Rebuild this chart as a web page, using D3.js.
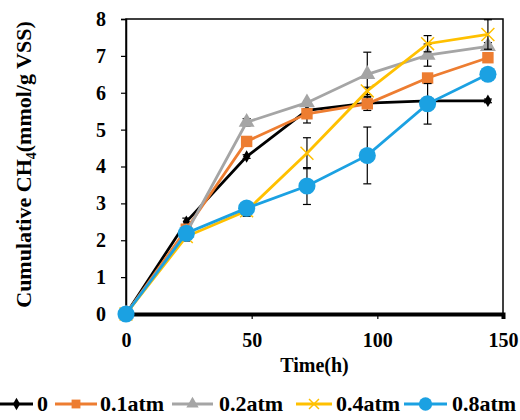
<!DOCTYPE html>
<html>
<head>
<meta charset="utf-8">
<script src="https://cdn.jsdelivr.net/npm/d3@7"></script>
<style>
  body { margin: 0; background: #fff; }
  svg text { font-family: "Liberation Serif", "Times New Roman", serif; font-weight: bold; }
</style>
</head>
<body>
<svg id="chart" width="520" height="420"></svg>
<script>
const times = [0, 24, 48, 72, 96, 120, 144];
const seriesNames = ['0', '0.1atm', '0.2atm', '0.4atm', '0.8atm'];
const v0   = [0, 2.5, 4.27, 5.52, 5.72, 5.78, 5.78];
const v01  = [0, 2.3, 4.68, 5.43, 5.7, 6.4, 6.95];
const v02  = [0, 2.2, 5.2, 5.73, 6.5, 7.02, 7.26];
const v04  = [0, 2.1, 2.8, 4.36, 6.05, 7.33, 7.58];
const v08  = [0, 2.19, 2.87, 3.47, 4.3, 5.7, 6.5];
// symmetric error bars
const e0   = [0, 0.1, 0.05, 0.05, 0.05, 0.1, 0.05];
const e01  = [0, 0.1, 0.1, 0.25, 0.18, 0.1, 0.1];
const e02  = [0, 0.1, 0.1, 0.05, 0.6, 0.3, 0.1];
const e04  = [0, 0.12, 0.15, 0.42, 0.1, 0.22, 0.4];
const e08  = [0, 0.08, 0.1, 0.5, 0.77, 0.55, 0.1];
const xTicks = [0, 50, 100, 150];
const yTicks = [0, 1, 2, 3, 4, 5, 6, 7, 8];

const series = [
  { name: seriesNames[0], values: v0,  err: e0,  color: '#000000', symbol: 'diamond' },
  { name: seriesNames[1], values: v01, err: e01, color: '#ED7D31', symbol: 'square' },
  { name: seriesNames[2], values: v02, err: e02, color: '#A5A5A5', symbol: 'triangle' },
  { name: seriesNames[3], values: v04, err: e04, color: '#FFC000', symbol: 'cross' },
  { name: seriesNames[4], values: v08, err: e08, color: '#1BA1E2', symbol: 'circle' }
];

const svg = d3.select('#chart');
const m = { left: 126, right: 503, top: 19, bottom: 314 };
const x = d3.scaleLinear().domain([0, 150]).range([m.left, m.right]);
const y = d3.scaleLinear().domain([0, 8]).range([m.bottom, m.top]);

// frame
svg.append('rect')
  .attr('x', m.left).attr('y', m.top)
  .attr('width', m.right - m.left).attr('height', m.bottom - m.top)
  .attr('fill', 'none').attr('stroke', '#000').attr('stroke-width', 1.5);

// axes
const yAxis = svg.append('g').attr('transform', `translate(${m.left},0)`)
  .call(d3.axisLeft(y).tickValues(yTicks).tickSize(5).tickPadding(15));
const xAxis = svg.append('g').attr('transform', `translate(0,${m.bottom})`)
  .call(d3.axisBottom(x).tickValues(xTicks).tickSize(5).tickPadding(14));
[yAxis, xAxis].forEach(g => {
  g.select('.domain').attr('stroke', '#000').attr('stroke-width', 1.5);
  g.selectAll('.tick line').attr('stroke', '#000').attr('stroke-width', 1.2);
  g.selectAll('.tick text').attr('fill', '#000')
    .style('font-size', '20px').style('font-family', '"Liberation Serif", serif').style('font-weight', 'bold');
});
xAxis.select('.domain').attr('stroke-width', 4);

// axis titles
svg.append('text')
  .attr('x', x(75)).attr('y', 372)
  .attr('text-anchor', 'middle').style('font-size', '20px')
  .text('Time(h)');

const yt = svg.append('text')
  .attr('transform', `translate(31,${y(4) - 2}) rotate(-90)`)
  .attr('text-anchor', 'middle').style('font-size', '22px');
yt.append('tspan').text('Cumulative CH');
yt.append('tspan').attr('dy', 5).style('font-size', '14px').text('4');
yt.append('tspan').attr('dy', -5).text('(mmol/g VSS)');

// symbols
const symbolType = {
  diamond: d3.symbolDiamond, square: d3.symbolSquare,
  triangle: d3.symbolTriangle, cross: d3.symbolX, circle: d3.symbolCircle
};
const symbolSize = { diamond: 45, square: 130, triangle: 110, cross: 110, circle: 230 };

const line = d3.line().x((d, i) => x(times[i])).y(d => y(d));

const plot = svg.append('g');
series.forEach(s => {
  // error bars
  const eb = plot.append('g');
  s.values.forEach((v, i) => {
    if (!s.err[i]) return;
    const cx = x(times[i]);
    const y1 = y(Math.min(8, v + s.err[i])), y2 = y(v - s.err[i]);
    eb.append('line').attr('x1', cx).attr('x2', cx).attr('y1', y1).attr('y2', y2)
      .attr('stroke', '#000').attr('stroke-width', 1.2);
    [y1, y2].forEach(yy => eb.append('line')
      .attr('x1', cx - 4).attr('x2', cx + 4).attr('y1', yy).attr('y2', yy)
      .attr('stroke', '#000').attr('stroke-width', 1.2));
  });
  plot.append('path').datum(s.values)
    .attr('d', line).attr('fill', 'none')
    .attr('stroke', s.color).attr('stroke-width', 2.8);
  plot.append('g').selectAll('path').data(s.values).join('path')
    .attr('transform', (d, i) => `translate(${x(times[i])},${y(d)})`)
    .attr('d', d3.symbol(symbolType[s.symbol], symbolSize[s.symbol]))
    .attr('fill', s.symbol === 'cross' ? 'none' : s.color)
    .attr('stroke', s.color)
    .attr('stroke-width', s.symbol === 'cross' ? 1.5 : 0);
});

// legend
const legendLine = [[0, 33], [55, 97], [172, 213], [296, 332], [404, 447]];
const legendText = [37, 100, 219, 336, 452];
const lg = svg.append('g').attr('transform', 'translate(0,404)');
series.forEach((s, i) => {
  const [a, b] = legendLine[i];
  lg.append('line').attr('x1', a).attr('x2', b).attr('y1', 0).attr('y2', 0)
    .attr('stroke', s.color).attr('stroke-width', 2.8);
  lg.append('path').attr('transform', `translate(${(a + b) / 2},0)`)
    .attr('d', d3.symbol(symbolType[s.symbol], symbolSize[s.symbol] * (s.symbol === 'diamond' ? 1 : 0.6)))
    .attr('fill', s.symbol === 'cross' ? 'none' : s.color)
    .attr('stroke', s.color).attr('stroke-width', s.symbol === 'cross' ? 1.5 : 0);
  lg.append('text').attr('x', legendText[i]).attr('y', 7).style('font-size', '22px').text(s.name);
});
</script>
</body>
</html>
